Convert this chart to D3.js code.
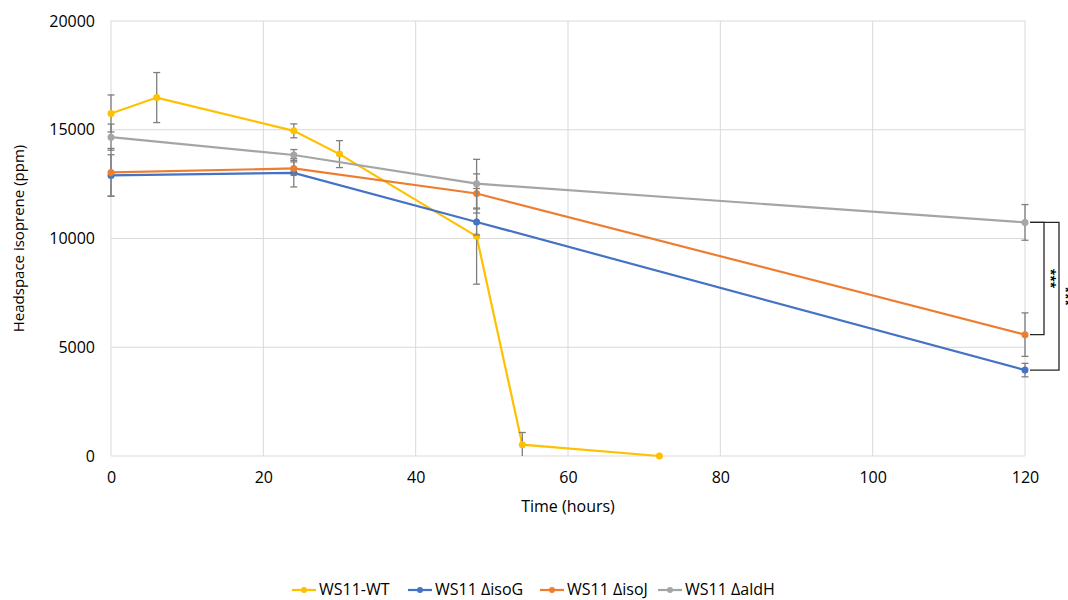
<!DOCTYPE html>
<html>
<head>
<meta charset="utf-8">
<script src="https://cdn.jsdelivr.net/npm/d3@7"></script>
<style>
  body { margin: 0; background: #fff; }
  text { font-family: "Open Sans", "Liberation Sans", sans-serif; fill: #000; }
</style>
</head>
<body>
<svg id="chart" width="1068" height="600"></svg>
<script>
// ---- data ----
const seriesNames = ['WS11-WT', 'WS11 ΔisoG', 'WS11 ΔisoJ', 'WS11 ΔaldH']
const seriesColors = ['#FFC000', '#4472C4', '#ED7D31', '#A5A5A5']

const wtTime = [0, 6, 24, 30, 48, 54, 72]
const wtValue = [15750, 16480, 14950, 13880, 10100, 520, 0]
const wtErr = [850, 1150, 320, 620, 2200, 560, 0]

const mutTime = [0, 24, 48, 120]
const isoGValue = [12900, 13020, 10760, 3950]
const isoGErr = [950, 650, 600, 310]
const isoJValue = [13040, 13220, 12070, 5580]
const isoJErr = [1100, 300, 900, 1000]
const aldHValue = [14660, 13840, 12520, 10740]
const aldHErr = [600, 250, 1120, 820]

const xTicks = [0, 20, 40, 60, 80, 100, 120]
const yTicks = [0, 5000, 10000, 15000, 20000]

let series = [
    { name: seriesNames[0], color: seriesColors[0], t: wtTime, v: wtValue, e: wtErr },
    { name: seriesNames[1], color: seriesColors[1], t: mutTime, v: isoGValue, e: isoGErr },
    { name: seriesNames[2], color: seriesColors[2], t: mutTime, v: isoJValue, e: isoJErr },
    { name: seriesNames[3], color: seriesColors[3], t: mutTime, v: aldHValue, e: aldHErr },
]

// ---- layout ----
let svg = d3.select('#chart')
let plotLeft = 111, plotRight = 1025, plotTop = 21, plotBottom = 456

let x = d3.scaleLinear().domain([0, 120]).range([plotLeft, plotRight])
let y = d3.scaleLinear().domain([0, 20000]).range([plotBottom, plotTop])

// grid
let grid = svg.append('g')
grid.selectAll('.vgrid').data(xTicks).enter().append('line')
    .attr('x1', d => x(d)).attr('x2', d => x(d))
    .attr('y1', plotTop).attr('y2', plotBottom)
    .attr('stroke', '#d9d9d9').attr('stroke-width', 1)
grid.selectAll('.hgrid').data(yTicks).enter().append('line')
    .attr('x1', plotLeft).attr('x2', plotRight)
    .attr('y1', d => y(d)).attr('y2', d => y(d))
    .attr('stroke', '#d9d9d9').attr('stroke-width', 1)

// axes (labels only, Excel style)
let xAxis = svg.append('g')
    .attr('transform', 'translate(0,' + plotBottom + ')')
    .call(d3.axisBottom(x).tickValues(xTicks).tickSize(0).tickPadding(16))
xAxis.select('.domain').remove()
xAxis.selectAll('text').style('font-size', '16px')

let yAxis = svg.append('g')
    .attr('transform', 'translate(' + plotLeft + ',0)')
    .call(d3.axisLeft(y).tickValues(yTicks).tickFormat(d3.format('d')).tickSize(0).tickPadding(16))
yAxis.select('.domain').remove()
yAxis.selectAll('text').style('font-size', '16px')

svg.append('text')
    .attr('x', 568).attr('y', 512)
    .attr('text-anchor', 'middle')
    .style('font-size', '16px')
    .text('Time (hours)')

svg.append('text')
    .attr('transform', 'translate(24,' + ((plotTop + plotBottom) / 2) + ') rotate(-90)')
    .attr('text-anchor', 'middle')
    .style('font-size', '15px')
    .text('Headspace isoprene (ppm)')

// ---- series ----
let line = d3.line().x(d => x(d.t)).y(d => y(d.v))

for (let s of series) {
    let pts = s.t.map((t, i) => ({ t: t, v: s.v[i], e: s.e[i] }))
    let g = svg.append('g')

    g.append('path').datum(pts)
        .attr('d', line)
        .attr('fill', 'none')
        .attr('stroke', s.color)
        .attr('stroke-width', 2.2)

    // error bars
    let eb = g.selectAll('.err').data(pts.filter(d => d.e > 0)).enter().append('g')
    eb.append('line')
        .attr('x1', d => x(d.t)).attr('x2', d => x(d.t))
        .attr('y1', d => y(Math.min(20000, d.v + d.e)))
        .attr('y2', d => y(Math.max(0, d.v - d.e)))
        .attr('stroke', '#7f7f7f').attr('stroke-width', 1.3)
    eb.append('line')
        .attr('x1', d => x(d.t) - 3.5).attr('x2', d => x(d.t) + 3.5)
        .attr('y1', d => y(d.v + d.e)).attr('y2', d => y(d.v + d.e))
        .attr('stroke', '#7f7f7f').attr('stroke-width', 1.3)
    eb.filter(d => d.v - d.e > 0).append('line')
        .attr('x1', d => x(d.t) - 3.5).attr('x2', d => x(d.t) + 3.5)
        .attr('y1', d => y(d.v - d.e)).attr('y2', d => y(d.v - d.e))
        .attr('stroke', '#7f7f7f').attr('stroke-width', 1.3)

    g.selectAll('.pt').data(pts).enter().append('circle')
        .attr('cx', d => x(d.t)).attr('cy', d => y(d.v))
        .attr('r', 3.5)
        .attr('fill', s.color)
}

// ---- significance brackets at 120 h ----
let last = i => series[i].v[series[i].v.length - 1]
let brackets = [
    { from: 3, to: 2, bx: 1044 },
    { from: 3, to: 1, bx: 1059 },
]
for (let b of brackets) {
    let y1 = y(last(b.from)), y2 = y(last(b.to))
    svg.append('path')
        .attr('d', 'M1030,' + y1 + 'H' + b.bx + 'V' + y2 + 'H1030')
        .attr('fill', 'none').attr('stroke', '#262626').attr('stroke-width', 1.3)
    svg.append('text')
        .attr('transform', 'translate(' + (b.bx + 2) + ',' + ((y1 + y2) / 2) + ') rotate(90)')
        .attr('text-anchor', 'middle')
        .style('font-size', '12px')
        .style('font-weight', 'bold')
        .text('***')
}

// ---- legend ----
let legendX = [292, 408, 540, 658]
let legend = svg.append('g')
series.forEach((s, i) => {
    let lg = legend.append('g').attr('transform', 'translate(' + legendX[i] + ',590)')
    lg.append('line').attr('x1', 0).attr('x2', 24).attr('y1', 0).attr('y2', 0)
        .attr('stroke', s.color).attr('stroke-width', 2.2)
    lg.append('circle').attr('cx', 12).attr('cy', 0).attr('r', 3).attr('fill', s.color)
    lg.append('text').attr('x', 27).attr('y', 5)
        .style('font-size', '16px')
        .text(s.name)
})
</script>
</body>
</html>
